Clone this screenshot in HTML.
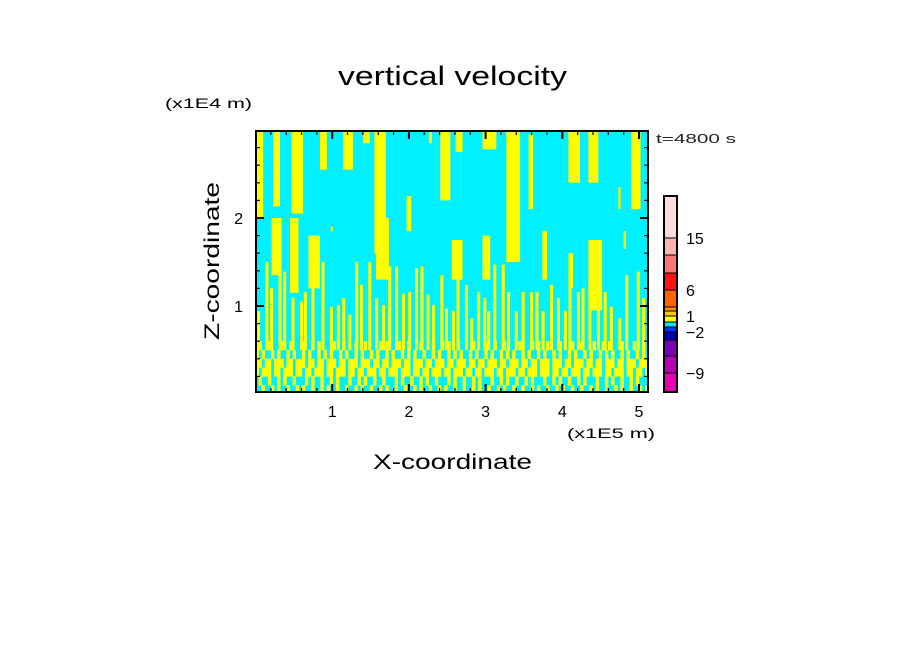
<!DOCTYPE html>
<html><head><meta charset="utf-8"><style>
html,body{margin:0;padding:0;background:#fff;}
svg{display:block;font-family:"Liberation Sans",sans-serif;}
</style></head><body>
<svg id="chart" width="904" height="654" viewBox="0 0 904 654" xmlns="http://www.w3.org/2000/svg">
<rect width="904" height="654" fill="#fff"/>
<text x="338" y="85" font-size="27" textLength="229" lengthAdjust="spacingAndGlyphs">vertical velocity</text>
<text x="165" y="108" font-size="14" textLength="87" lengthAdjust="spacingAndGlyphs">(x1E4 m)</text>
<text x="567" y="438" font-size="14" textLength="88" lengthAdjust="spacingAndGlyphs">(x1E5 m)</text>
<text x="656" y="143" font-size="13" fill="#222" textLength="80" lengthAdjust="spacingAndGlyphs">t=4800 s</text>
<text x="373" y="469" font-size="21" textLength="159" lengthAdjust="spacingAndGlyphs">X-coordinate</text>
<text transform="translate(219,340) rotate(-90)" font-size="21" textLength="158" lengthAdjust="spacingAndGlyphs">Z-coordinate</text>
<g id="field"></g>
<g id="axes"></g>
<g id="cbar"></g>
</svg>
<script>
// ---- data (x in 1e5 m, z in 1e4 m) ----
const bigX0 = [0.015,0.23,0.47,0.84,1.14,1.40,1.55,1.97,2.26,2.41,2.61,2.96,3.27,3.56,4.08,4.34,4.73,4.90, 0.21,0.45,0.69,0.98,1.57,2.56,2.96,3.74,4.08,4.34,4.80];
const bigX1 = [0.10,0.32,0.62,0.93,1.27,1.49,1.70,2.03,2.30,2.54,2.70,3.14,3.45,3.62,4.23,4.47,4.76,5.02, 0.34,0.56,0.84,1.01,1.74,2.70,3.06,3.80,4.14,4.52,4.83];
const bigZ0 = [2.0,2.13,2.05,2.55,2.55,2.85,1.6,1.85,2.85,2.2,2.75,2.78,1.5,2.1,2.4,2.4,2.1,2.1, 1.35,1.15,1.2,1.85,1.3,1.3,1.3,1.3,1.2,0.95,1.65];
const bigZ1 = [3.0,3.0,3.0,3.0,3.0,3.0,3.0,2.25,3.0,3.0,3.0,3.0,3.0,2.95,3.0,3.0,2.35,3.0, 2.0,2.0,1.8,1.9,2.0,1.75,1.8,1.85,1.6,1.75,1.85];
const thinX = [0.04,0.15,0.21,0.32,0.38,0.49,0.60,0.65,0.75,0.88,0.99,1.08,1.15,1.23,1.32,1.38,1.49,1.58,1.67,1.75,1.84,1.93,2.01,2.10,2.17,2.25,2.32,2.43,2.49,2.58,2.64,2.75,2.82,2.91,2.99,3.04,3.12,3.23,3.30,3.40,3.49,3.60,3.67,3.75,3.86,3.95,4.04,4.10,4.21,4.27,4.36,4.47,4.56,4.64,4.75,4.84,4.99,5.06];
const thinTop = [0.94,1.50,1.20,1.35,1.39,1.09,1.05,1.16,1.28,1.50,0.99,1.01,1.09,0.90,1.50,1.24,1.50,1.09,1.01,1.45,1.45,1.14,1.16,1.43,1.45,1.13,1.01,1.35,0.97,0.94,1.47,1.24,0.86,1.16,1.09,0.94,1.47,1.47,1.16,0.94,1.16,1.16,1.16,0.94,1.24,1.09,0.94,1.35,1.16,1.20,1.28,0.97,1.16,0.99,0.86,1.35,1.39,1.09];
const bandRows = [
"0100100010010001001010000100100010010000101000100100010001001010010000100010010010000100010100100010001001000100101000100010010",
"1010010100101001010010101001010010100101001010010101001001010010101001010010100101010010100101001010010100101001010100101001010",
"1101101110110111011011011101101110111011011011101101110110111011011101101101110110111011011011101110110111011011011101101110111",
"1011101101110110110111011011101101101110110111011101101101110110111011011011101101110110111011101101101110110111011011101101101",
"0100100101001000101001001010001001010010010001010010010100100010100100101000100101001001010001001010010010100010010100100101000",
"0010010100100101001001010010010010100100101001001001010010010100100100101001001010010010010100100101001001001010010010100100101"];
const bandZ0 = [0.5,0.4,0.3,0.2,0.1,0.02];
const cbColors = ["#e600b4","#b400b4","#7800b4","#0000b4","#0032ff","#00e6ff","#ffff00","#ffc800","#ff9600","#ff6400","#ff1414","#ff7878","#ffb4b4","#ffdcdc"];
const cbEdges = [392,373,356,340,332,327,322,316,311,307,290,273,255,238,196];
const cbLabels = ["15","6","1","\u22122","\u22129"];
const cbLabelEdge = [13,10,7,4,1];
const xTickLabels = ["1","2","3","4","5"];
const yTickLabels = ["1","2"];

// ---- axes ----
const L=256,R=648,T=131,B=392, X0=255.5, XS=76.7, Z0=394, ZS=88;
const sx=v=>X0+v*XS, sz=v=>Z0-v*ZS;
const NS="http://www.w3.org/2000/svg";
function mk(tag,attrs,parent){const e=document.createElementNS(NS,tag);for(const k in attrs)e.setAttribute(k,attrs[k]);parent.appendChild(e);return e;}
const field=document.getElementById('field'), axes=document.getElementById('axes'), cbar=document.getElementById('cbar');
const CY="#00f0ff", YE="#ffff00";
let bg=mk('rect',{x:L,y:T,width:R-L,height:B-T,fill:CY},field);


const clip=mk('clipPath',{id:'pc'},field); mk('rect',{x:L,y:T,width:R-L,height:B-T},clip);
const g=mk('g',{'clip-path':'url(#pc)'},field);
for(let i=0;i<bigX0.length;i++){
  const r=mk('rect',{x:sx(bigX0[i]),y:sz(bigZ1[i]),width:sx(bigX1[i])-sx(bigX0[i]),height:sz(bigZ0[i])-sz(bigZ1[i]),fill:YE},g);
  
  
}
for(let i=0;i<thinX.length;i++){
  const r=mk('rect',{x:sx(thinX[i])-1.5,y:sz(thinTop[i]),width:3,height:sz(0.5)-sz(thinTop[i]),fill:YE},g);
  
  
}
for(let j=0;j<bandRows.length;j++){
  const s=bandRows[j], w=5.12/s.length, z0=bandZ0[j], z1=(j===0?0.6:bandZ0[j-1]);
  for(let i=0;i<s.length;i++){ if(s[i]==='1'){
    const r=mk('rect',{x:sx(i*w),y:sz(z1),width:sx(w)-sx(0)+0.3,height:sz(z0)-sz(z1)+0.3,fill:YE},g);
    
    
  }}
}
// frame and ticks
let fr=mk('rect',{x:L,y:T,width:R-L,height:B-T,fill:'none',stroke:'#000','stroke-width':2},axes);


for(let k=1;k<=25;k++){const v=k*0.2, x=sx(v); if(x>=R) break; const maj=(k%5===0), len=maj?8:4;
  mk('line',{x1:x,y1:B,x2:x,y2:B-len,stroke:'#000','stroke-width':maj?2:1.2},axes);
  mk('line',{x1:x,y1:T,x2:x,y2:T+len,stroke:'#000','stroke-width':maj?2:1.2},axes);}
for(let k=1;k<=14;k++){const v=k*0.2, y=sz(v); if(y<=T) break; const maj=(k%5===0), len=maj?8:4;
  mk('line',{x1:L,y1:y,x2:L+len,y2:y,stroke:'#000','stroke-width':maj?2:1.2},axes);
  mk('line',{x1:R,y1:y,x2:R-len,y2:y,stroke:'#000','stroke-width':maj?2:1.2},axes);}
xTickLabels.forEach((t,i)=>{const e=mk('text',{x:sx(i+1),y:417,'font-size':16,'text-anchor':'middle'},axes);e.textContent=t;
  
  });
yTickLabels.forEach((t,i)=>{const e=mk('text',{x:243,y:sz(i+1)+6,'font-size':16,'text-anchor':'end'},axes);e.textContent=t;
  
  });
// colorbar
for(let i=0;i<cbColors.length;i++){
  const r=mk('rect',{x:664,y:cbEdges[i+1],width:13,height:cbEdges[i]-cbEdges[i+1],fill:cbColors[i],stroke:'#000','stroke-width':1},cbar);
  
  
}
let cf=mk('rect',{x:664,y:196,width:13,height:196,fill:'none',stroke:'#000','stroke-width':2},cbar);


cbLabels.forEach((t,i)=>{const e=mk('text',{x:686,y:cbEdges[cbLabelEdge[i]]+6,'font-size':16},cbar);e.textContent=t;
  
  });
</script>
</body></html>
